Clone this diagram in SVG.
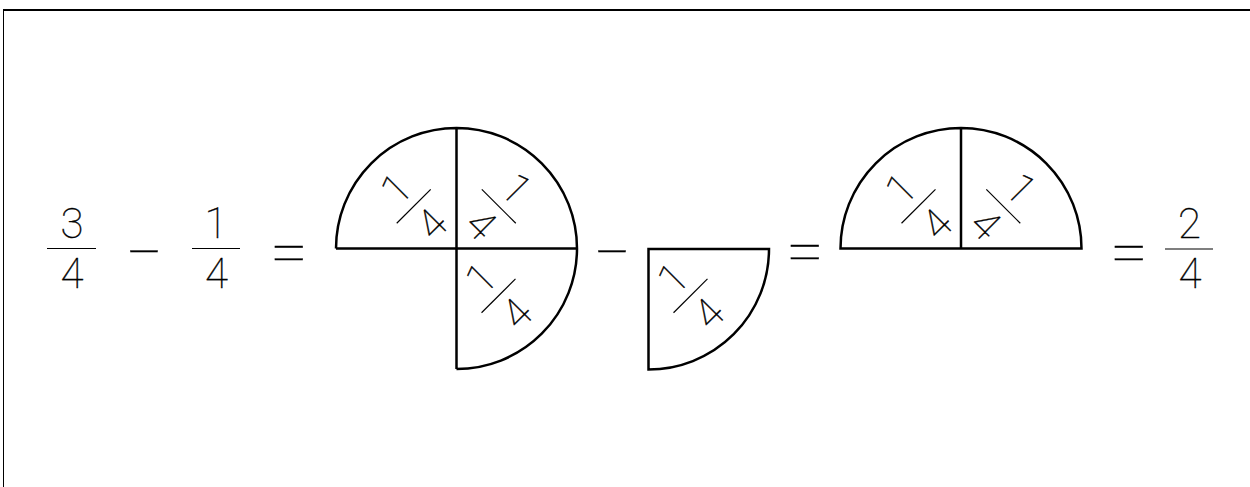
<svg xmlns="http://www.w3.org/2000/svg" width="1250" height="487" viewBox="0 0 1250 487">
<style>
.o{fill:none;stroke:#000;stroke-width:2.5;stroke-linejoin:miter}
.t{font-family:Roboto,Lato,"Liberation Sans",sans-serif;font-weight:100;font-size:42px;fill:#000;stroke:#000;stroke-width:0.35;text-anchor:middle}
.op{font-family:Roboto,Lato,"Liberation Sans",sans-serif;font-weight:100;font-size:62px;fill:#000;stroke:#000;stroke-width:0.3;text-anchor:middle}
.b{stroke:#000;stroke-width:1.2}
.frame{fill:none;stroke:#000}
</style>
<defs>
<g id="q14">
<text class="t" x="0" y="-10">1</text>
<line class="b" x1="-24" y1="0" x2="24" y2="0"/>
<text class="t" x="0" y="40">4</text>
</g>
</defs>
<rect width="1250" height="487" fill="#fff"/>
<g id="frame">
<line class="frame" x1="3" y1="10" x2="1250" y2="10" stroke-width="2"/>
<line class="frame" x1="3.5" y1="9" x2="3.5" y2="487" stroke-width="1"/>
</g>
<g id="frac-3-4">
<text class="t" x="72" y="238">3</text>
<line class="b" x1="47" y1="248.5" x2="96" y2="248.5"/>
<text class="t" x="72" y="288">4</text>
</g>
<g id="minus-1"><text class="op" transform="translate(144,274) scale(1.08,1)">−</text></g>
<g id="frac-1-4">
<text class="t" x="216" y="238">1</text>
<line class="b" x1="192" y1="248.5" x2="240" y2="248.5"/>
<text class="t" x="216.5" y="288">4</text>
</g>
<g id="equals-1"><text class="op" transform="translate(289,272.5) scale(1.1,1)">=</text></g>
<g id="shape-three-quarters">
<path class="o" d="M336,248.5 A120.5,120.5 0 0 1 577,248.5 A120.5,120.5 0 0 1 456.5,369 M336,248.5 H577 M456.5,128 V369"/>
<use href="#q14" transform="translate(413.7,206.3) rotate(-45)"/>
<use href="#q14" transform="translate(498.8,206.3) rotate(45)"/>
<use href="#q14" transform="translate(498.5,295.8) rotate(-45)"/>
</g>
<g id="minus-2"><text class="op" transform="translate(612,274) scale(1.08,1)">−</text></g>
<g id="shape-one-quarter">
<path class="o" d="M648.5,249 H769 A120.5,120.5 0 0 1 648.5,369.5 Z"/>
<use href="#q14" transform="translate(690.5,295.8) rotate(-45)"/>
</g>
<g id="equals-2"><text class="op" transform="translate(805,272) scale(1.1,1)">=</text></g>
<g id="shape-half">
<path class="o" d="M840.5,248.5 A120.5,120.5 0 0 1 1081.5,248.5 Z M961,128 V248.5"/>
<use href="#q14" transform="translate(918.5,206.3) rotate(-45)"/>
<use href="#q14" transform="translate(1003.3,206.3) rotate(45)"/>
</g>
<g id="equals-3"><text class="op" transform="translate(1129,272.5) scale(1.1,1)">=</text></g>
<g id="frac-2-4">
<text class="t" x="1189.5" y="238">2</text>
<line class="b" x1="1165" y1="249" x2="1213" y2="249"/>
<text class="t" x="1190" y="288">4</text>
</g>
<g id="connectors"/>
</svg>
